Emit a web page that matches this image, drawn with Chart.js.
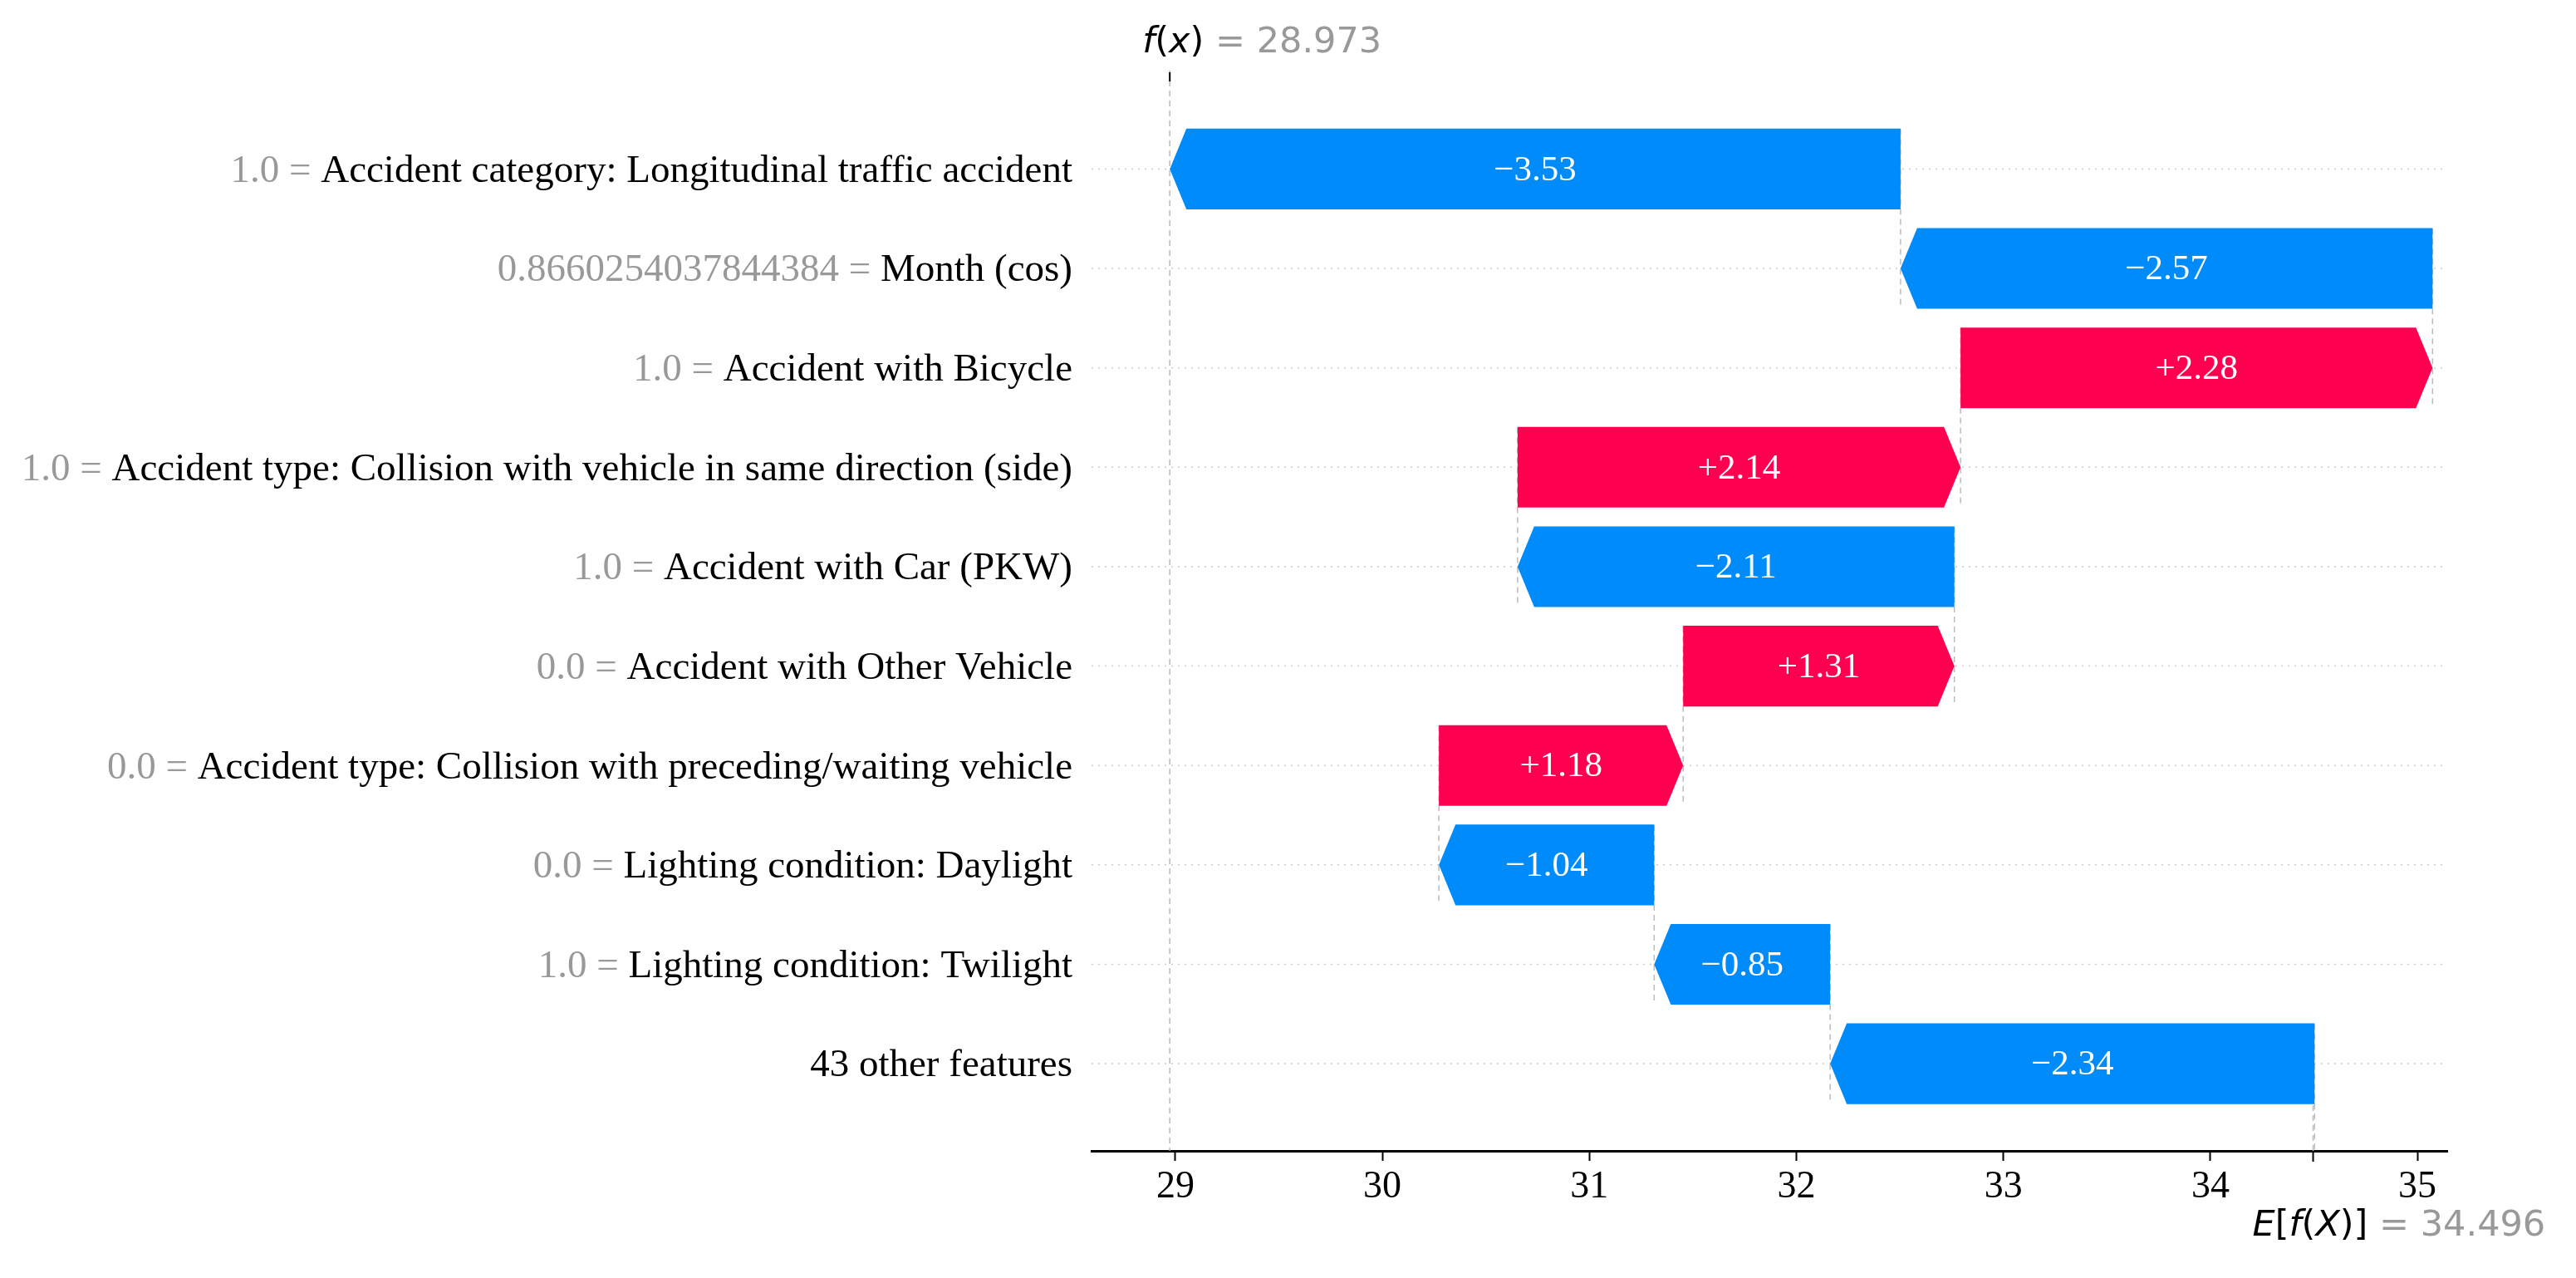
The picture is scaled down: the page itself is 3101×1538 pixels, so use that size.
<!DOCTYPE html>
<html>
<head>
<meta charset="utf-8">
<script src="https://cdn.jsdelivr.net/npm/chart.js@4.4.0/dist/chart.umd.min.js"></script>
<style>
    html, body { margin: 0; padding: 0; background: #fff; }
    #wrap { width: 3101px; height: 1538px; }
</style>
</head>
<body>
<div id="wrap"><canvas id="waterfall" width="3101" height="1538"></canvas></div>
<script>
// feature rows, top to bottom
const featureValues = ['1.0', '0.8660254037844384', '1.0', '1.0', '1.0', '0.0', '0.0', '0.0', '1.0', ''];
const featureNames = [
    'Accident category: Longitudinal traffic accident',
    'Month (cos)',
    'Accident with Bicycle',
    'Accident type: Collision with vehicle in same direction (side)',
    'Accident with Car (PKW)',
    'Accident with Other Vehicle',
    'Accident type: Collision with preceding/waiting vehicle',
    'Lighting condition: Daylight',
    'Lighting condition: Twilight',
    '43 other features'
];
const shapValues = [-3.53, -2.57, 2.28, 2.14, -2.11, 1.31, 1.18, -1.04, -0.85, -2.34];
const baseValue = 34.496;   // E[f(X)]
const outputValue = 28.973; // f(x)
const xTicks = [29, 30, 31, 32, 33, 34, 35];

const BLUE = '#008bfb';
const RED = '#ff0051';
const GRAY = '#999999';

// build the floating bars, walking back from f(x)
const bars = [];
let loc = outputValue;
shapValues.forEach((v, i) => {
    const start = loc - v;
    bars.push({ y: i, x: [start, loc] });
    loc = start;
});

function drawRuns(ctx, runs, x, y) {
    runs.forEach(r => {
        ctx.font = r.font;
        ctx.fillStyle = r.color;
        ctx.fillText(r.text, x, y);
        x += ctx.measureText(r.text).width;
    });
}

const waterfallPlugin = {
    id: 'waterfall',
    beforeDatasetsDraw(chart) {
        const { ctx, chartArea: area, scales: { x, y } } = chart;
        ctx.save();
        // dotted row lines
        ctx.strokeStyle = '#cccccc';
        ctx.lineWidth = 1.5;
        ctx.setLineDash([2, 6]);
        bars.forEach(b => {
            const py = y.getPixelForValue(b.y);
            ctx.beginPath();
            ctx.moveTo(area.left, py);
            ctx.lineTo(area.right, py);
            ctx.stroke();
        });
        // dashed connectors between bars
        ctx.strokeStyle = '#bbbbbb';
        ctx.setLineDash([7, 5]);
        bars.forEach((b, i) => {
            const px = x.getPixelForValue(b.x[0]);
            const y0 = y.getPixelForValue(i - 0.4);
            const y1 = Math.min(area.bottom, y.getPixelForValue(i + 1.4));
            ctx.beginPath();
            ctx.moveTo(px, y0);
            ctx.lineTo(px, y1);
            ctx.stroke();
        });
        // f(x) line full height, E[f(X)] line on the bottom tenth
        const fx = x.getPixelForValue(outputValue);
        ctx.beginPath();
        ctx.moveTo(fx, area.top);
        ctx.lineTo(fx, area.bottom);
        ctx.stroke();
        const ex = x.getPixelForValue(baseValue);
        ctx.beginPath();
        ctx.moveTo(ex, area.bottom);
        ctx.lineTo(ex, area.bottom - (area.bottom - area.top) / bars.length);
        ctx.stroke();
        ctx.restore();
    },
    afterDatasetsDraw(chart) {
        const { ctx } = chart;
        const meta = chart.getDatasetMeta(0);
        ctx.save();
        meta.data.forEach((el, i) => {
            const v = shapValues[i];
            const left = Math.min(el.base, el.x);
            const right = Math.max(el.base, el.x);
            const top = el.y - el.height / 2;
            const bot = el.y + el.height / 2;
            const hl = Math.min(20, right - left);
            ctx.fillStyle = v < 0 ? BLUE : RED;
            ctx.beginPath();
            if (v < 0) {
                ctx.moveTo(right, top);
                ctx.lineTo(left + hl, top);
                ctx.lineTo(left, el.y);
                ctx.lineTo(left + hl, bot);
                ctx.lineTo(right, bot);
            } else {
                ctx.moveTo(left, top);
                ctx.lineTo(right - hl, top);
                ctx.lineTo(right, el.y);
                ctx.lineTo(right - hl, bot);
                ctx.lineTo(left, bot);
            }
            ctx.closePath();
            ctx.fill();

            ctx.fillStyle = '#ffffff';
            ctx.font = '43px "Liberation Serif"';
            ctx.textAlign = 'center';
            ctx.textBaseline = 'middle';
            const txt = (v < 0 ? '\u2212' : '+') + Math.abs(v).toFixed(2);
            ctx.fillText(txt, (left + right) / 2, el.y + 2);
        });
        ctx.restore();
    },
    afterDraw(chart) {
        const { ctx, chartArea: area, scales: { x, y } } = chart;
        ctx.save();
        // feature labels: gray value, black name
        ctx.textAlign = 'right';
        ctx.textBaseline = 'middle';
        ctx.font = '47px "Liberation Serif"';
        const rx = area.left - 23;
        featureNames.forEach((name, i) => {
            const py = y.getPixelForValue(i) + 3;
            ctx.fillStyle = '#000';
            ctx.fillText(name, rx, py);
            if (featureValues[i] !== '') {
                const w = ctx.measureText(name).width;
                ctx.fillStyle = GRAY;
                ctx.fillText(featureValues[i] + ' = ', rx - w, py);
            }
        });

        // top tick at f(x) and bottom tick at E[f(X)]
        const fx = x.getPixelForValue(outputValue);
        const ex = x.getPixelForValue(baseValue);
        ctx.strokeStyle = '#000';
        ctx.lineWidth = 2;
        ctx.beginPath();
        ctx.moveTo(fx, area.top + 2);
        ctx.lineTo(fx, area.top + 13);
        ctx.moveTo(ex, area.bottom + 1);
        ctx.lineTo(ex, area.bottom + 13);
        ctx.stroke();

        ctx.textAlign = 'left';
        ctx.textBaseline = 'alphabetic';
        const dj = '43px "DejaVu Sans"';
        const dji = 'oblique 43px "DejaVu Sans"';
        drawRuns(ctx, [
            { text: 'f', font: dji, color: '#000' },
            { text: '(', font: dj, color: '#000' },
            { text: 'x', font: dji, color: '#000' },
            { text: ')', font: dj, color: '#000' },
            { text: ' = ' + outputValue.toFixed(3), font: dj, color: GRAY }
        ], fx - 33, 63);
        drawRuns(ctx, [
            { text: 'E', font: dji, color: '#000' },
            { text: '[', font: dj, color: '#000' },
            { text: 'f', font: dji, color: '#000' },
            { text: '(', font: dj, color: '#000' },
            { text: 'X', font: dji, color: '#000' },
            { text: ')]', font: dj, color: '#000' },
            { text: ' = ' + baseValue.toFixed(3), font: dj, color: GRAY }
        ], ex - 73, 1487);
        ctx.restore();
    }
};

new Chart(document.getElementById('waterfall'), {
    type: 'bar',
    data: {
        datasets: [{
            data: bars,
            backgroundColor: 'rgba(0,0,0,0)',
            borderWidth: 0,
            barPercentage: 0.82,
            categoryPercentage: 1.0
        }]
    },
    options: {
        indexAxis: 'y',
        responsive: false,
        devicePixelRatio: 1,
        animation: false,
        layout: { padding: { left: 1314, right: 155, top: 85, bottom: 0 } },
        scales: {
            x: {
                type: 'linear',
                min: 28.595,
                max: 35.144,
                afterBuildTicks: scale => {
                    scale.ticks = xTicks.map(v => ({ value: v }));
                },
                afterFit: scale => {
                    scale.height = 153;
                },
                ticks: {
                    color: '#000',
                    font: { family: 'Liberation Serif', size: 46 },
                    padding: 4,
                    maxRotation: 0,
                    callback: v => String(v)
                },
                grid: {
                    drawOnChartArea: false,
                    drawTicks: true,
                    tickLength: 12,
                    tickWidth: 2,
                    tickColor: '#000'
                },
                border: { display: true, color: '#000', width: 3 }
            },
            y: {
                type: 'linear',
                min: -0.99,
                max: 9.877,
                reverse: true,
                offset: false,
                display: false
            }
        },
        plugins: {
            legend: { display: false },
            tooltip: { enabled: false }
        }
    },
    plugins: [waterfallPlugin]
});
</script>
</body>
</html>
